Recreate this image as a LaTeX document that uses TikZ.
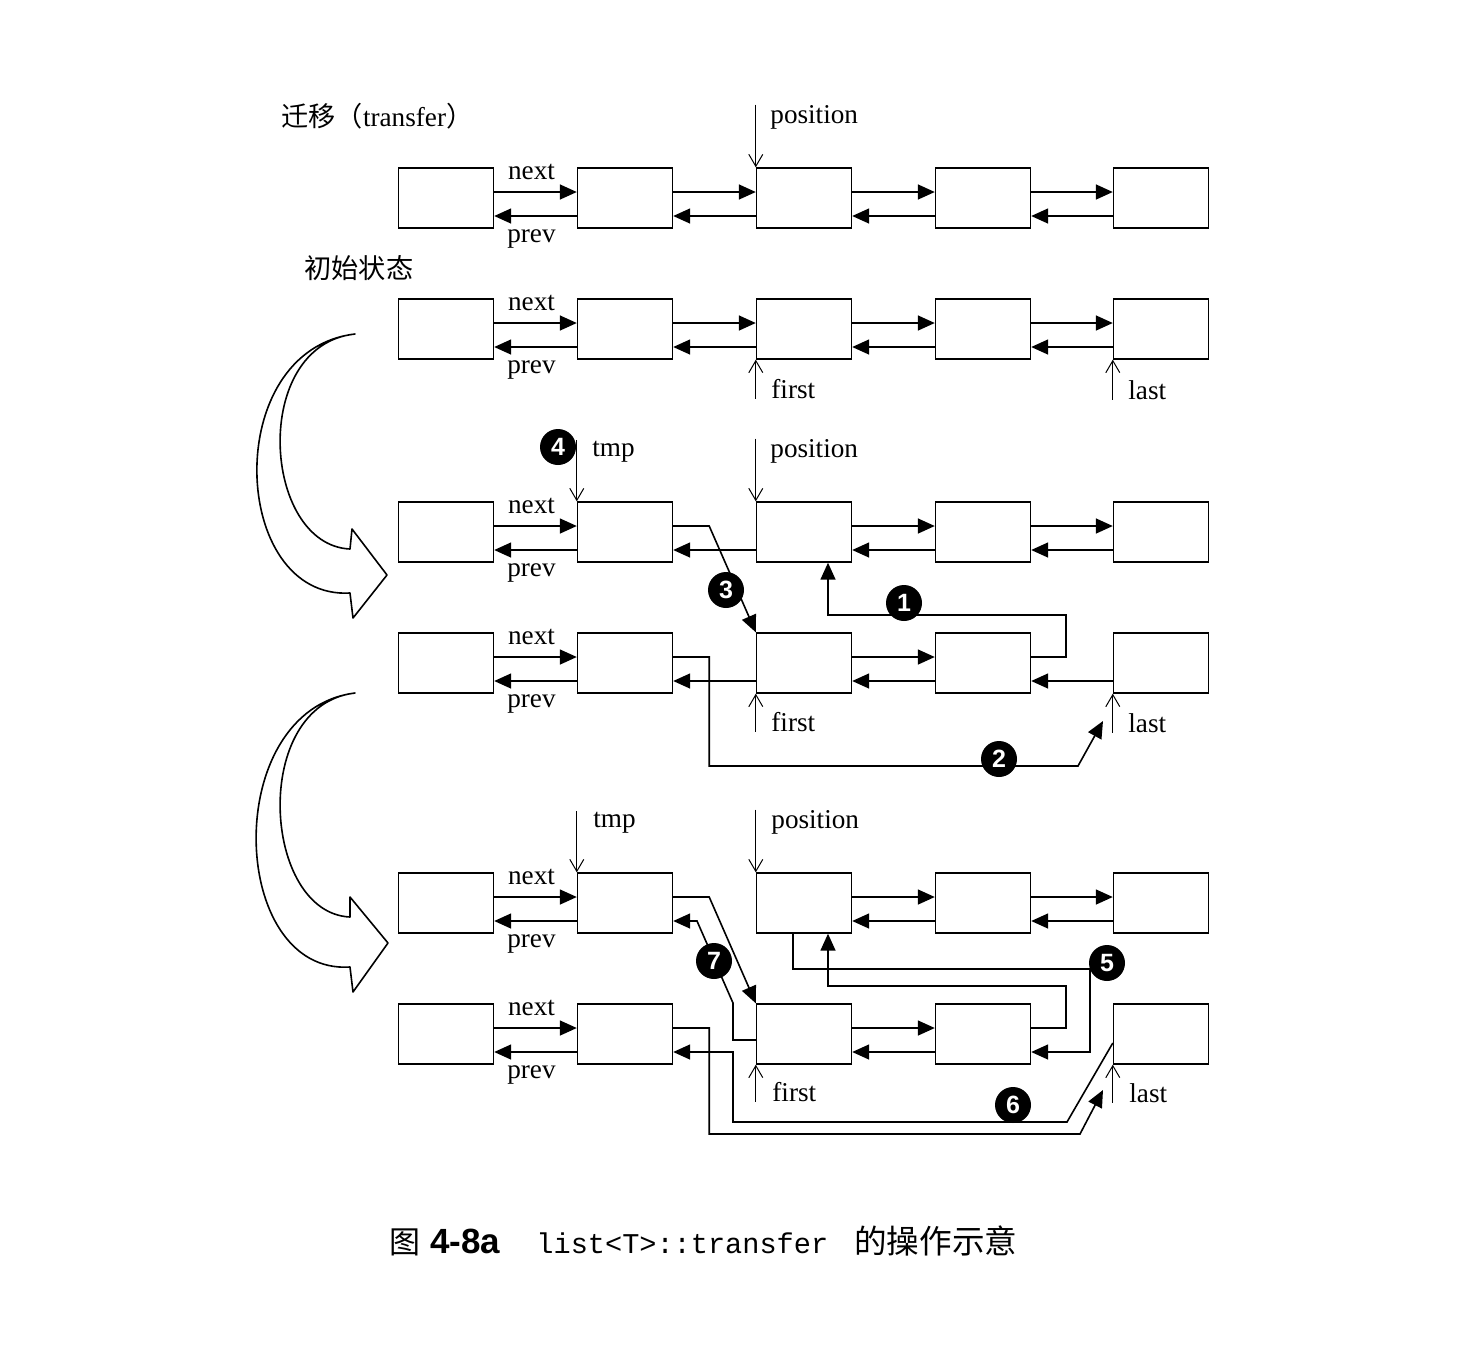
\documentclass[tikz,border=0pt]{standalone}
\usepackage{fontspec}
\setmainfont{Liberation Serif}
\setsansfont{Liberation Sans}
\setmonofont{Liberation Mono}
\newfontfamily\cjk{Noto Sans CJK SC}
\usetikzlibrary{calc,arrows.meta}

\begin{document}
\begin{tikzpicture}[x=0.5pt,y=-0.5pt,
  box/.style={draw,line width=0.7pt,minimum width=47.5pt,minimum height=30pt,inner sep=0pt},
  lnk/.style={line width=0.8pt,-{Triangle[length=8.5pt,width=7.5pt]}},
  ptr/.style={line width=0.5pt,-{Straight Barb[length=6pt,width=7pt]}},
  lbl/.style={font=\fontsize{13.6}{15}\selectfont,inner sep=0pt},
  num/.style={circle,fill=black,text=white,inner sep=0pt,minimum size=18pt,font=\fontsize{12.5}{12}\selectfont\sffamily\bfseries},
  bigarrow/.style={line width=0.8pt,line join=round}]
  \useasboundingbox (0,0) rectangle (1479,1351);
  \foreach \r/\y in {a/198,b/329,c/532,d/663,e/903,f/1034}{
    \foreach \i/\x in {1/446,2/625,3/804,4/983,5/1161}{\node[box] (\r\i) at (\x,\y) {};}
    \draw[lnk] ([yshift=3pt]\r1.east) -- ([yshift=3pt]\r2.west) node[lbl,midway,above=5.5pt,xshift=-2pt] {next};
    \draw[lnk] ([yshift=-9pt]\r2.west) -- ([yshift=-9pt]\r1.east) node[lbl,midway,below=6.5pt,xshift=-2pt] {prev};
  }
  \foreach \p/\q in {a2/a3,a3/a4,a4/a5,b2/b3,b3/b4,b4/b5,c3/c4,c4/c5,d3/d4,e3/e4,e4/e5,f3/f4}
    \draw[lnk] ([yshift=3pt]\p.east) -- ([yshift=3pt]\q.west);
  \foreach \p/\q in {a2/a3,a3/a4,a4/a5,b2/b3,b3/b4,b4/b5,c2/c3,c3/c4,c4/c5,d2/d3,d3/d4,d4/d5,e3/e4,e4/e5,f3/f4}
    \draw[lnk] ([yshift=-9pt]\q.west) -- ([yshift=-9pt]\p.east);

  \node[lbl,anchor=base west] (title) at (281,126) {{\cjk 迁移（}transfer{\cjk ）}};
  \node[lbl,anchor=base west] (init) at (304,278) {\cjk 初始状态};

  \node[lbl,anchor=base west] (pa) at (770,123) {position};
  \draw[ptr] (a3.north west |- pa.north) -- (a3.north west);
  \node[lbl,anchor=base west] (fb) at (771,398) {first};
  \draw[ptr] (b3.south west |- fb.south) -- (b3.south west);
  \node[lbl,anchor=base west] (lb) at (1128,399) {last};
  \draw[ptr] (b5.south west |- lb.south) -- (b5.south west);

  \node[lbl,anchor=base west] (tc) at (592,456) {tmp};
  \draw[ptr] (c2.north west |- tc.north) -- (c2.north west);
  \node[lbl,anchor=base west] (pc) at (770,457) {position};
  \draw[ptr] (c3.north west |- pc.north) -- (c3.north west);
  \node[lbl,anchor=base west] (fd) at (771,731) {first};
  \draw[ptr] (d3.south west |- fd.south) -- (d3.south west);
  \node[lbl,anchor=base west] (ld) at (1128,732) {last};
  \draw[ptr] (d5.south west |- ld.south) -- (d5.south west);

  \node[lbl,anchor=base west] (te) at (593,827) {tmp};
  \draw[ptr] (e2.north west |- te.north) -- (e2.north west);
  \node[lbl,anchor=base west] (pe) at (771,828) {position};
  \draw[ptr] (e3.north west |- pe.north) -- (e3.north west);
  \node[lbl,anchor=base west] (ff) at (772,1101) {first};
  \draw[ptr] (f3.south west |- ff.south) -- (f3.south west);
  \node[lbl,anchor=base west] (lf) at (1129,1102) {last};
  \draw[ptr] (f5.south west |- lf.south) -- (f5.south west);

  \coordinate (d2to) at (1103,721);
  \coordinate (f2to) at (1103,1090);
  \draw[lnk] ([yshift=3pt]d4.east) -| (1066,615) -| ([xshift=12pt]c3.south);
  \draw[lnk] ([yshift=3pt]d2.east) -- ++(36,0) |- (1078,766) -- (d2to);
  \draw[lnk] ([yshift=3pt]c2.east) -- ++(36,0) -- (d3.north west);
  \draw[lnk] ([yshift=3pt]e2.east) -- ++(36,0) -- (f3.north west);
  \draw[lnk] ([xshift=-5.5pt]e3.south) |- (1090,969) |- ([yshift=-9pt]f4.east);
  \draw[lnk] ([yshift=3pt]f4.east) -| (1066,986) -| ([xshift=12pt]e3.south);
  \draw[lnk] ([yshift=-4.5pt]f5.west) -- (1067,1122) -- (733,1122) |- ([yshift=-9pt]f2.east);
  \draw[lnk] ([yshift=3pt]f2.east) -- ++(36,0) |- (1080,1134) -- (f2to);
  \draw[lnk] ([yshift=-3pt]f3.west) -- (733,1040) -- (733,1003) -- (697,921) -- ([yshift=-9pt]e2.east);

  \node[num] (n1) at (904,603) {1};
  \node[num] (n2) at (999,759) {2};
  \node[num] (n3) at (726,590) {3};
  \node[num] (n4) at (558,447) {4};
  \node[num] (n5) at (1107,963) {5};
  \node[num] (n6) at (1013,1105) {6};
  \node[num] (n7) at (714,961) {7};

  \draw[bigarrow] (355,334) .. controls (220,350) and (230,600) .. (350,593) -- (353,618) -- (387,575) -- (352,529) -- (350,549) .. controls (262,545) and (250,345) .. (355,334) -- cycle;
  \draw[bigarrow] (355,693) .. controls (220,710) and (228,975) .. (350,967) -- (353,992) -- (388,943) -- (350,897) -- (350,917) .. controls (262,913) and (250,705) .. (355,693) -- cycle;

  \node[anchor=base west,inner sep=0pt] (cap) at (389,1253) {{\fontsize{15.5}{16}\selectfont\cjk 图}\hspace{5pt}{\fontsize{17.5}{16}\selectfont\sffamily\bfseries 4-8a}\hspace{18pt}{\fontsize{14.3}{16}\selectfont\ttfamily list<T>::transfer}\hspace{13pt}{\fontsize{16.3}{16}\selectfont\cjk 的操作示意}};
\end{tikzpicture}
\end{document}
